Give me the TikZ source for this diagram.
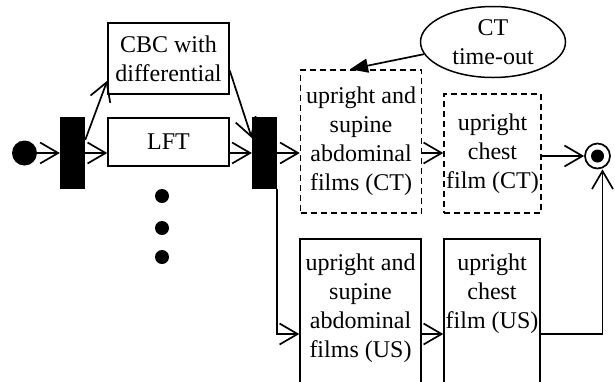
\documentclass[tikz,border=0pt]{standalone}
\usepackage{fontspec}
\setmainfont{Liberation Serif}
\usetikzlibrary{arrows.meta,shapes.geometric,calc}

\tikzset{
  txt/.style={font=\fontsize{24}{29}\selectfont},
  flow/.style={line width=1.7pt,-{Straight Barb[length=18pt,width=21pt,line width=1.7pt]}},
  trig/.style={line width=1.7pt,-{Triangle[length=18pt,width=14pt]}},
  bar/.style={fill=black,inner sep=0pt,minimum width=25pt,minimum height=72pt},
  actbox/.style={draw,line width=1.5pt,txt,align=center,inner sep=0pt},
  ctbox/.style={actbox,dash pattern=on 6pt off 4pt},
  usbox/.style={draw,line width=1.5pt,inner sep=0pt,minimum width=#1,minimum height=180pt,anchor=north},
  uslbl/.style={anchor=north,yshift=-16pt,align=center,inner sep=0pt,txt}
}

\begin{document}
\begin{tikzpicture}[x=1pt,y=-1pt]
			\useasboundingbox (0,0) rectangle (615,381);
			\clip (0,0) rectangle (615,381);
			
			% start, fork and join
			\node[circle,fill=black,inner sep=0pt,minimum size=25pt] (start) at (24.5,153) {};
			\node[bar] (fork) at (72.5,153) {};
			\node[bar] (join) at (264.5,153) {};
			
			\node[actbox,minimum width=121pt,minimum height=71pt] (cbc) at (168.5,58.5) {CBC with\\differential};
			\node[actbox,minimum width=121pt,minimum height=48pt] (lft) at (168.5,142) {LFT};
			
			% CT branch
			\node[ctbox,minimum width=121pt,minimum height=143pt] (ctabd) at (361,141.5) {upright and\\supine\\abdominal\\films (CT)};
			\node[ctbox,minimum width=97pt,minimum height=119pt] (ctchest) at (492.5,153.5) {upright\\chest\\film (CT)};
			\node[ellipse,draw,line width=1.5pt,txt,align=center,inner sep=0pt,minimum width=145pt,minimum height=71pt] (timeout) at (493,42) {CT\\time-out};
			
			% US branch
			\node[usbox=121pt,label={[uslbl]north:upright and\\supine\\abdominal\\films (US)}] (usabd) at (360.5,238) {};
			\node[usbox=96pt,label={[uslbl]north:upright\\chest\\film (US)}] (uschest) at (492,238) {};
			
			% end
			\node[circle,draw,line width=1.7pt,inner sep=0pt,minimum size=25pt] (end) at (597.5,156) {};
			\fill (end.center) circle (6.5);
			
			\foreach \y in {196,228,257}
				\fill (162,\y) circle (7);
			
			\draw[flow] (start.east) -- (start.east -| fork.west);
			\draw[flow] (fork.east) -- (fork.east -| lft.west);
			\draw[flow] ([yshift=13pt]fork.east) -- ([yshift=14pt]cbc.south west);
			\draw[flow] ([yshift=-12pt]cbc.east) -- ([yshift=15pt]join.west);
			\draw[flow] (lft.east |- join.west) -- (join.west);
			\draw[flow] (join.east) -- (join.east -| ctabd.west);
			\draw[flow] (ctabd.east |- join.east) -- (ctchest.west |- join.east);
			\draw[flow] (ctchest.east |- end.west) -- (end.west);
			\draw[trig] (timeout.190) -- ([xshift=-11pt]ctabd.north);
			\draw[flow] (join.south east) |- ([yshift=-96pt]usabd.north west);
			\draw[flow] ([yshift=-96pt]usabd.north east) -- ([yshift=-96pt]uschest.north west);
			\draw[flow] ([yshift=-96pt]uschest.north east) -| ([xshift=5pt]end.south);
			
		\end{tikzpicture}
\end{document}
